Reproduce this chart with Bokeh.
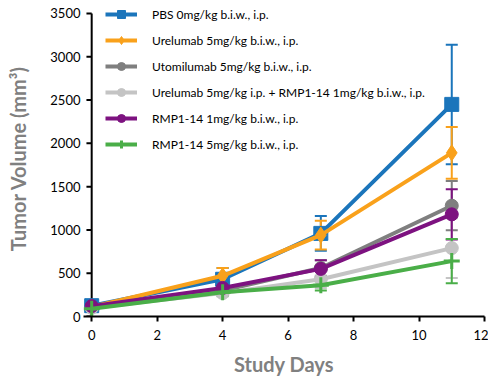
from bokeh.plotting import figure
from bokeh.models import ColumnDataSource, Whisker, TeeHead, Range1d, FixedTicker
from bokeh.embed import file_html
from bokeh.resources import INLINE

days = [0, 4, 7, 11]

labels = [
    "PBS 0mg/kg b.i.w., i.p.",
    "Urelumab 5mg/kg b.i.w., i.p.",
    "Utomilumab 5mg/kg b.i.w., i.p.",
    "Urelumab 5mg/kg i.p. + RMP1-14 1mg/kg b.i.w., i.p.",
    "RMP1-14 1mg/kg b.i.w., i.p.",
    "RMP1-14 5mg/kg b.i.w., i.p.",
]
pbs = [125, 430, 960, 2450]
pbs_err = [30, 130, 200, 690]
urelumab = [110, 470, 940, 1890]
urelumab_err = [20, 90, 165, 300]
utomilumab = [105, 300, 560, 1280]
utomilumab_err = [15, 50, 90, 285]
combo = [100, 270, 430, 790]
combo_err = [15, 40, 100, 345]
rmp_1 = [120, 330, 550, 1180]
rmp_1_err = [20, 40, 100, 290]
rmp_5 = [90, 280, 360, 640]
rmp_5_err = [15, 40, 60, 255]

x_ticks = [0, 2, 4, 6, 8, 10, 12]
y_ticks = [0, 500, 1000, 1500, 2000, 2500, 3000, 3500]

series = [pbs, urelumab, utomilumab, combo, rmp_1, rmp_5]
errors = [pbs_err, urelumab_err, utomilumab_err, combo_err, rmp_1_err, rmp_5_err]
colors = ["#1b75bb", "#f9a11b", "#7f7f7f", "#c4c4c4", "#7d1280", "#4aae48"]
markers = ["square", "diamond", "circle", "circle", "circle", "cross"]
msizes = [14, 16, 13, 13, 13, 16]

# frame reaches the top of the canvas so the legend's first row is not clipped;
# the drawn y axis stops at the last tick (3500)
p = figure(width=488, height=381, output_backend="svg", toolbar_location=None,
           x_range=Range1d(-0.25, 12), y_range=Range1d(0, 3650),
           min_border_left=83, min_border_right=4, min_border_top=0, min_border_bottom=65)
p.outline_line_color = None
p.xgrid.visible = False
p.ygrid.visible = False

# y axis line and ticks drawn at day 0
p.segment(x0=[0], x1=[0], y0=[min(y_ticks)], y1=[max(y_ticks)],
          line_color="black", line_width=2)
p.segment(x0=[-0.16] * len(y_ticks), x1=[0] * len(y_ticks), y0=y_ticks, y1=y_ticks,
          line_color="black", line_width=2)

for vals, errs, col, mk, ms, lab in zip(series, errors, colors, markers, msizes, labels):
    src = ColumnDataSource(dict(x=days, y=vals,
                                upper=[v + e for v, e in zip(vals, errs)],
                                lower=[v - e for v, e in zip(vals, errs)]))
    w = Whisker(source=src, base="x", upper="upper", lower="lower",
                line_color=col, line_width=2, level="underlay",
                upper_head=TeeHead(size=12, line_color=col, line_width=2),
                lower_head=TeeHead(size=12, line_color=col, line_width=2))
    p.add_layout(w)
    p.line("x", "y", source=src, line_color=col, line_width=4, legend_label=lab)
    if mk == "cross":
        p.scatter("x", "y", source=src, marker=mk, size=ms, line_color=col, line_width=3,
                  legend_label=lab)
    else:
        p.scatter("x", "y", source=src, marker=mk, size=ms, fill_color=col, line_color=col,
                  legend_label=lab)

for ax in [p.xaxis[0], p.yaxis[0]]:
    ax.axis_line_width = 2
    ax.axis_line_color = "black"
    ax.major_tick_line_width = 2
    ax.major_tick_line_color = "black"
    ax.major_tick_in = 0
    ax.major_tick_out = 5
    ax.minor_tick_line_color = None
    ax.major_label_text_font = "Lato"
    ax.major_label_text_font_size = "13px"
    ax.major_label_text_color = "black"
    ax.axis_label_text_font = "Lato"
    ax.axis_label_text_font_size = "20px"
    ax.axis_label_text_font_style = "bold"
    ax.axis_label_text_color = "#808080"

p.yaxis.axis_line_color = None
p.yaxis.major_tick_line_color = None
p.yaxis.major_tick_out = 0

p.xaxis.ticker = FixedTicker(ticks=x_ticks)
p.yaxis.ticker = FixedTicker(ticks=y_ticks)
p.xaxis.axis_label = "Study Days"
p.yaxis.axis_label = "Tumor Volume (mm³)"
p.xaxis.major_label_standoff = 8
p.yaxis.major_label_standoff = 3
p.xaxis.axis_label_standoff = 9
p.yaxis.axis_label_standoff = 17

leg = p.legend[0]
leg.location = (22, 162)
leg.border_line_color = None
leg.background_fill_alpha = 0
leg.padding = 0
leg.margin = 0
leg.spacing = 6
leg.glyph_width = 32
leg.glyph_height = 20
leg.label_height = 20
leg.label_standoff = 15
leg.label_text_font = "Lato"
leg.label_text_font_size = "12px"
leg.label_text_color = "black"

open("out.html", "w").write(file_html(p, INLINE))
